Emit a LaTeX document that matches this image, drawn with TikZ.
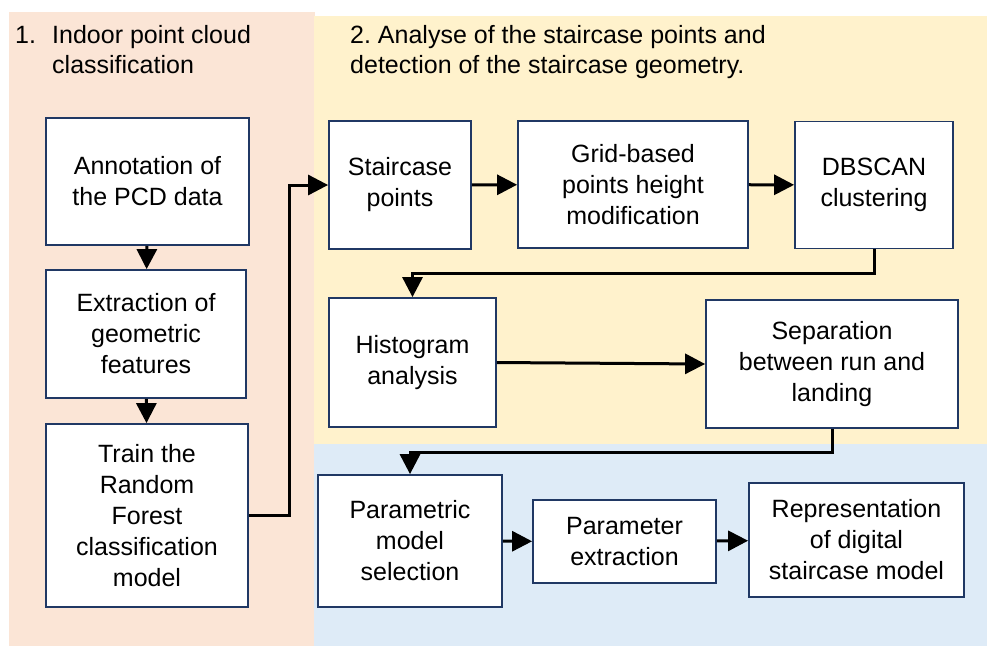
\documentclass[tikz,border=0pt]{standalone}
\usepackage{fontspec}
\setmainfont{Liberation Sans}
\usetikzlibrary{arrows.meta,positioning}
\definecolor{sdink}{HTML}{000000}
\definecolor{sdnavy}{HTML}{203864}
\definecolor{sdpeach}{HTML}{FBE5D6}
\definecolor{sdcream}{HTML}{FFF2CC}
\definecolor{sdsky}{HTML}{DEEBF7}
\tikzset{
  sd text/.style={font=\fontsize{25}{31}\selectfont, text=sdink},
  sd panel/.style={draw=none, anchor=north west, inner sep=0pt, outer sep=0pt},
  sd box/.style={draw=sdnavy, line width=1.8pt, fill=white, align=center,
    inner sep=2pt, font=\fontsize{25}{31}\selectfont},
  sd arrow/.style={-{Triangle[length=20pt,width=20pt]}, line width=3pt, draw=sdink},
  sd title/.style={anchor=base west, align=left, inner sep=0pt,
    font=\fontsize{25}{30}\selectfont}
}

\begin{document}
\begin{tikzpicture}[sd text, x=1pt, y=-1pt]
  \useasboundingbox (0,0) rectangle (987,646);

  % background panels
  \node[sd panel, fill=sdpeach, minimum width=306, minimum height=634] (pa) at (9,12) {};
  \node[sd panel, fill=sdcream, minimum width=673, minimum height=429] (pb) at (314,16) {};
  \node[sd panel, fill=sdsky, minimum width=673, minimum height=202] (pc) at (314,444) {};

  \node[sd title] (ta) at (15,73) {\makebox[37pt][l]{1.}Indoor point cloud\\\hspace*{37pt}classification};
  \node[sd title] (tb) at (350,73) {2.\ Analyse of the staircase points and\\detection of the staircase geometry.};

  % classification
  \node[sd box, minimum width=203, minimum height=127] (annot) at (147.5,181.5) {Annotation of\\the PCD data};
  \node[sd box, minimum width=200, minimum height=128] (feat) at (146,334) {Extraction of\\geometric\\features};
  \node[sd box, minimum width=202, minimum height=183] (train) at (147,515.5) {Train the\\Random\\Forest\\classification\\model};

  % staircase analysis
  \node[sd box, minimum width=142, minimum height=128] (stair) at (400,185) {Staircase\\points};
  \node[sd box, minimum width=230, minimum height=127] (grid) at (633,184.5) {Grid-based\\points height\\modification};
  \node[sd box, minimum width=158, minimum height=127] (dbscan) at (874,185) {DBSCAN\\clustering};
  \node[sd box, minimum width=167, minimum height=129] (hist) at (412.5,362.5) {Histogram\\analysis};
  \node[sd box, minimum width=252, minimum height=128] (sep) at (832,364) {Separation\\between run and\\landing};

  % model
  \node[sd box, minimum width=184, minimum height=132] (param) at (410,541) {Parametric\\model\\selection};
  \node[sd box, minimum width=183, minimum height=83] (pext) at (624.5,541.5) {Parameter\\extraction};
  \node[sd box, minimum width=215, minimum height=114] (repr) at (856.5,540) {Representation\\of digital\\staircase model};

  \draw[sd arrow] (annot) -- (feat);
  \draw[sd arrow] (feat) -- (train);
  \draw[sd arrow] (train.east) -- ++(41,0) |- (stair.west);
  \draw[sd arrow] (stair) -- (grid);
  \draw[sd arrow] (grid) -- (dbscan);
  \draw[sd arrow] (dbscan.south) -- ++(0,24) -| (hist.north);
  \draw[sd arrow] (hist.east) -- (sep.west);
  \draw[sd arrow] (sep.south) -- ++(0,24) -| (param.north);
  \draw[sd arrow] (param) -- (pext);
  \draw[sd arrow] (pext) -- (repr);
\end{tikzpicture}
\end{document}
